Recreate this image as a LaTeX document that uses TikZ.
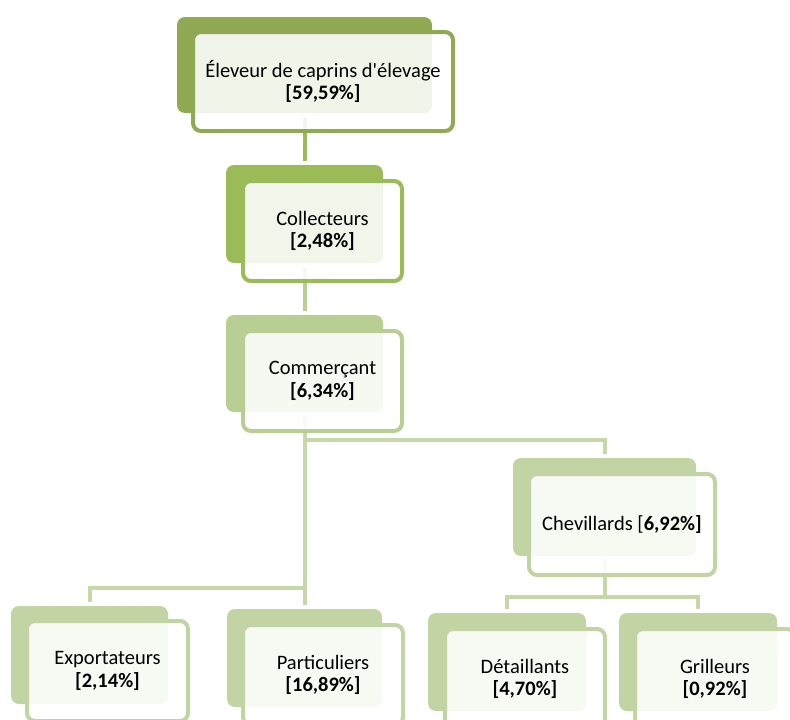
\documentclass[tikz,border=0pt]{standalone}
\usepackage{fontspec}
\setmainfont{Carlito}[Ligatures=TeXOff]
\definecolor{gA}{HTML}{8FAA52}
\definecolor{gB}{HTML}{9BBB59}
\definecolor{gC}{HTML}{B9CE92}
\definecolor{gD}{HTML}{C2D4A3}
\definecolor{gL}{HTML}{C6D7A8}
\tikzset{
  bgbox/.style={rectangle, rounded corners=8pt, inner sep=0pt, outer sep=0pt, draw=none},
  frbox/.style={rectangle, rounded corners=8pt, inner sep=0pt, outer sep=0pt, line width=4pt, fill=white, fill opacity=0.88, draw opacity=1},
  lbl/.style={align=center, font=\fontsize{20.5}{22.5}\selectfont, text=black, inner sep=0pt},
  conn/.style={line width=4pt},
}
\begin{document}
\begin{tikzpicture}[x=1pt,y=-1pt]
\clip (0,0) rectangle (790,720);
\fill[white] (0,0) rectangle (790,720);
% backgrounds
\node[bgbox, fill=gA, minimum width=255pt, minimum height=96pt] (n1bg) at (304.5,65) {};
\node[bgbox, fill=gB, minimum width=157pt, minimum height=98pt] (n2bg) at (304.5,214) {};
\node[bgbox, fill=gC, minimum width=157pt, minimum height=97pt] (n3bg) at (304.5,363.5) {};
\node[bgbox, fill=gD, minimum width=183pt, minimum height=98pt] (n4bg) at (604.5,507) {};
\node[bgbox, fill=gD, minimum width=157pt, minimum height=98pt] (n5bg) at (89.5,655) {};
\node[bgbox, fill=gD, minimum width=155pt, minimum height=98pt] (n6bg) at (304.5,658) {};
\node[bgbox, fill=gD, minimum width=158pt, minimum height=98pt] (n7bg) at (507,662) {};
\node[bgbox, fill=gD, minimum width=158pt, minimum height=98pt] (n8bg) at (698,662) {};
% junctions
\coordinate (jA) at (304.5,440);
\coordinate (jB) at (304.5,588);
\coordinate (jC) at (604.5,597);
% connectors
\draw[conn, draw=gB] ([yshift=-5pt]n1bg.south) -- ([yshift=4pt]n2bg.north);
\draw[conn, draw=gC] ([yshift=-5pt]n2bg.south) -- ([yshift=4pt]n3bg.north);
\draw[conn, draw=gL] ([yshift=-5pt]n3bg.south) -- ([yshift=4pt]n6bg.north);
\draw[conn, draw=gL] (jA) -| ([yshift=4pt]n4bg.north);
\draw[conn, draw=gL] (jB) -| ([yshift=4pt]n5bg.north);
\draw[conn, draw=gL] ([yshift=-5pt]n4bg.south) -- (jC);
\draw[conn, draw=gL] (jC) -| ([yshift=4pt]n7bg.north);
\draw[conn, draw=gL] (jC) -| ([yshift=4pt]n8bg.north);
% frames
\node[frbox, draw=gA, minimum width=260pt, minimum height=99pt] (n1fr) at (323,81.5) {};
\node[frbox, draw=gB, minimum width=159pt, minimum height=100pt] (n2fr) at (322.5,231) {};
\node[frbox, draw=gC, minimum width=159pt, minimum height=100pt] (n3fr) at (322.5,381) {};
\node[frbox, draw=gD, minimum width=186pt, minimum height=101pt] (n4fr) at (622,524.5) {};
\node[frbox, draw=gD, minimum width=161pt, minimum height=100pt] (n5fr) at (107.5,671) {};
\node[frbox, draw=gD, minimum width=160pt, minimum height=100pt] (n6fr) at (323,675) {};
\node[frbox, draw=gD, minimum width=160pt, minimum height=100pt] (n7fr) at (525,679) {};
\node[frbox, draw=gD, minimum width=160pt, minimum height=100pt] (n8fr) at (715,679) {};
% labels
\node[lbl] (t1) at (n1fr.center) {Éleveur de caprins d'élevage\\\textbf{[59,59\%]}};
\node[lbl] (t2) at (n2fr.center) {Collecteurs\\\textbf{[2,48\%]}};
\node[lbl] (t3) at (n3fr.center) {Commerçant\\\textbf{[6,34\%]}};
\node[lbl] (t4) at (n4fr.center) {Chevillards [\textbf{6,92\%]}};
\node[lbl] (t5) at (n5fr.center) {Exportateurs\\\textbf{[2,14\%]}};
\node[lbl] (t6) at (n6fr.center) {Particuliers\\\textbf{[16,89\%]}};
\node[lbl] (t7) at (n7fr.center) {Détaillants\\\textbf{[4,70\%]}};
\node[lbl] (t8) at (n8fr.center) {Grilleurs\\\textbf{[0,92\%]}};
\end{tikzpicture}
\end{document}
